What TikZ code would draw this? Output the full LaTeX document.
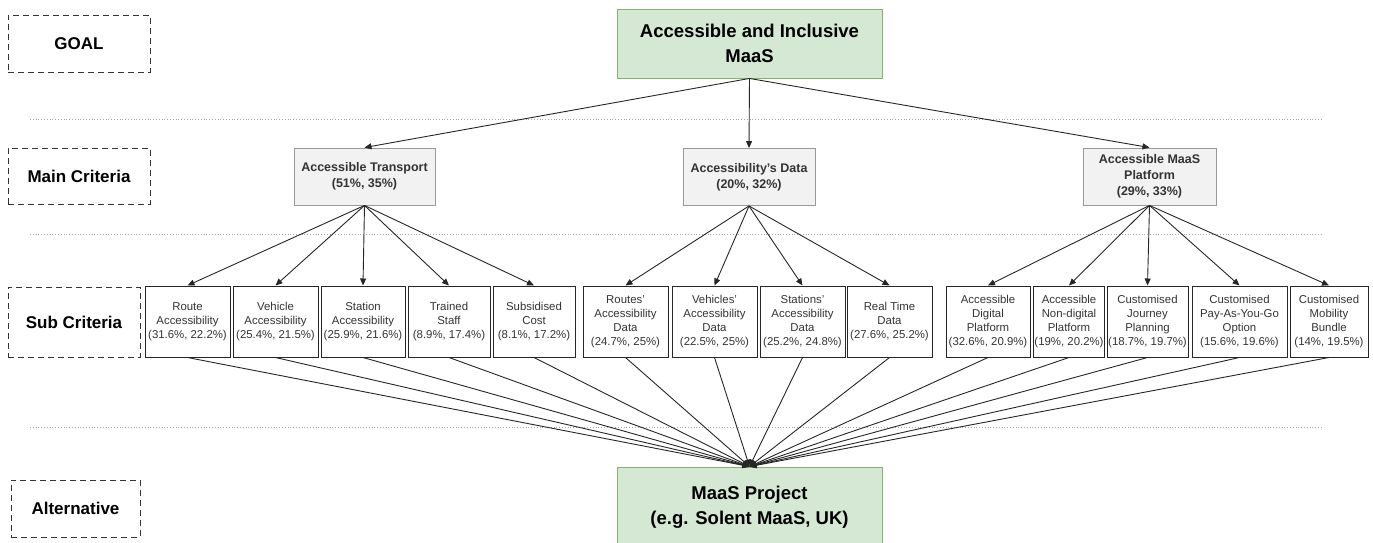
\documentclass[tikz,border=0pt]{standalone}
\usepackage{fontspec}
\setmainfont{Liberation Sans}
\usetikzlibrary{arrows.meta}
\definecolor{goalgreen}{HTML}{D5E8D4}
\definecolor{goalline}{HTML}{82B366}
\definecolor{maingray}{HTML}{F2F2F2}
\definecolor{mainline}{HTML}{999999}
\definecolor{txtgray}{HTML}{333333}
\tikzset{
  level/.style={draw=black!80, dash pattern=on 6pt off 4pt, line width=0.8pt,
    font=\bfseries\fontsize{17}{20}\selectfont},
  goalbox/.style={draw=goalline, fill=goalgreen, line width=0.9pt, align=center,
    minimum width=265pt, font=\bfseries\fontsize{18.5}{25}\selectfont},
  mainbox/.style={draw=mainline, fill=maingray, line width=0.9pt, align=center,
    text=txtgray, minimum height=57pt, inner sep=2pt, font=\bfseries\fontsize{12.5}{16}\selectfont},
  subbox/.style={draw=black!85, line width=1pt, align=center, text=txtgray,
    minimum height=71pt, inner sep=1pt, font=\fontsize{11.4}{14}\selectfont},
  sep/.style={draw=black!35, dotted, line width=0.8pt},
  link/.style={draw=black!85, line width=0.9pt, -{Triangle[length=7pt,width=6pt]}}
}
\begin{document}
\begin{tikzpicture}[x=1pt,y=-1pt]
\useasboundingbox (0,0) rectangle (1373,543);

% level labels
\node[level, minimum width=142pt, minimum height=57pt] (lgoal) at (79,43.5) {GOAL};
\node[level, minimum width=142pt, minimum height=56pt] (lmain) at (79,176) {Main Criteria};
\node[level, minimum width=132pt, minimum height=70pt] (lsub) at (74,322) {Sub Criteria};
\node[level, minimum width=129pt, minimum height=57pt] (lalt) at (75.5,508.5) {Alternative};

% separators
\path[sep] (30,119) -- (1322,119);
\path[sep] (30,234) -- (1322,234);
\path[sep] (30,427) -- (1322,427);

% goal and alternative
\node[goalbox, minimum height=69pt] (goal) at (749.5,43.5) {Accessible and Inclusive\\MaaS};
\node[goalbox, minimum height=80pt] (maas) at (749.5,507) {MaaS Project\\(e.g. Solent MaaS, UK)};

% main criteria
\node[mainbox, minimum width=141pt] (transport) at (364.5,176.5) {Accessible Transport\\(51\%, 35\%)};
\node[mainbox, minimum width=132pt] (data) at (749,177) {Accessibility's Data\\(20\%, 32\%)};
\node[mainbox, minimum width=133pt] (platform) at (1149.5,176.5) {Accessible MaaS\\Platform\\(29\%, 33\%)};

% sub criteria
\node[subbox, minimum width=85pt] (route) at (187.5,321.5) {Route\\Accessibility\\(31.6\%, 22.2\%)};
\node[subbox, minimum width=85pt] (vehicle) at (275.5,321.5) {Vehicle\\Accessibility\\(25.4\%, 21.5\%)};
\node[subbox, minimum width=84pt] (station) at (363,321.5) {Station\\Accessibility\\(25.9\%, 21.6\%)};
\node[subbox, minimum width=82pt] (staff) at (449,321.5) {Trained\\Staff\\(8.9\%, 17.4\%)};
\node[subbox, minimum width=82pt] (cost) at (534,321.5) {Subsidised\\Cost\\(8.1\%, 17.2\%)};
\node[subbox, minimum width=85pt] (routesdata) at (625.5,321.5) {Routes'\\Accessibility\\Data\\(24.7\%, 25\%)};
\node[subbox, minimum width=85pt] (vehiclesdata) at (714.5,321.5) {Vehicles'\\Accessibility\\Data\\(22.5\%, 25\%)};
\node[subbox, minimum width=85pt] (stationsdata) at (802.5,321.5) {Stations'\\Accessibility\\Data\\(25.2\%, 24.8\%)};
\node[subbox, minimum width=85pt] (realtime) at (889.5,321.5) {Real Time\\Data\\(27.6\%, 25.2\%)};
\node[subbox, minimum width=84pt] (digital) at (988,321.5) {Accessible\\Digital\\Platform\\(32.6\%, 20.9\%)};
\node[subbox, minimum width=70pt] (nondigital) at (1069,321.5) {Accessible\\Non-digital\\Platform\\(19\%, 20.2\%)};
\node[subbox, minimum width=81pt] (journey) at (1147.5,321.5) {Customised\\Journey\\Planning\\(18.7\%, 19.7\%)};
\node[subbox, minimum width=95pt] (payg) at (1239.5,321.5) {Customised\\Pay-As-You-Go\\Option\\(15.6\%, 19.6\%)};
\node[subbox, minimum width=78pt] (bundle) at (1329,321.5) {Customised\\Mobility\\Bundle\\(14\%, 19.5\%)};

% goal to main criteria
\path[link] (goal.south) -- (transport.north);
\path[link] (goal.south) -- (data.north);
\path[link] (goal.south) -- (platform.north);

% main criteria to sub criteria
\path[link] (transport.south) -- (route.north);
\path[link] (transport.south) -- (vehicle.north);
\path[link] (transport.south) -- (station.north);
\path[link] (transport.south) -- (staff.north);
\path[link] (transport.south) -- (cost.north);
\path[link] (data.south) -- (routesdata.north);
\path[link] (data.south) -- (vehiclesdata.north);
\path[link] (data.south) -- (stationsdata.north);
\path[link] (data.south) -- (realtime.north);
\path[link] (platform.south) -- (digital.north);
\path[link] (platform.south) -- (nondigital.north);
\path[link] (platform.south) -- (journey.north);
\path[link] (platform.south) -- (payg.north);
\path[link] (platform.south) -- (bundle.north);

% sub criteria to alternative
\path[link] (route.south) -- (maas.north);
\path[link] (vehicle.south) -- (maas.north);
\path[link] (station.south) -- (maas.north);
\path[link] (staff.south) -- (maas.north);
\path[link] (cost.south) -- (maas.north);
\path[link] (routesdata.south) -- (maas.north);
\path[link] (vehiclesdata.south) -- (maas.north);
\path[link] (stationsdata.south) -- (maas.north);
\path[link] (realtime.south) -- (maas.north);
\path[link] (digital.south) -- (maas.north);
\path[link] (nondigital.south) -- (maas.north);
\path[link] (journey.south) -- (maas.north);
\path[link] (payg.south) -- (maas.north);
\path[link] (bundle.south) -- (maas.north);
\end{tikzpicture}
\end{document}
